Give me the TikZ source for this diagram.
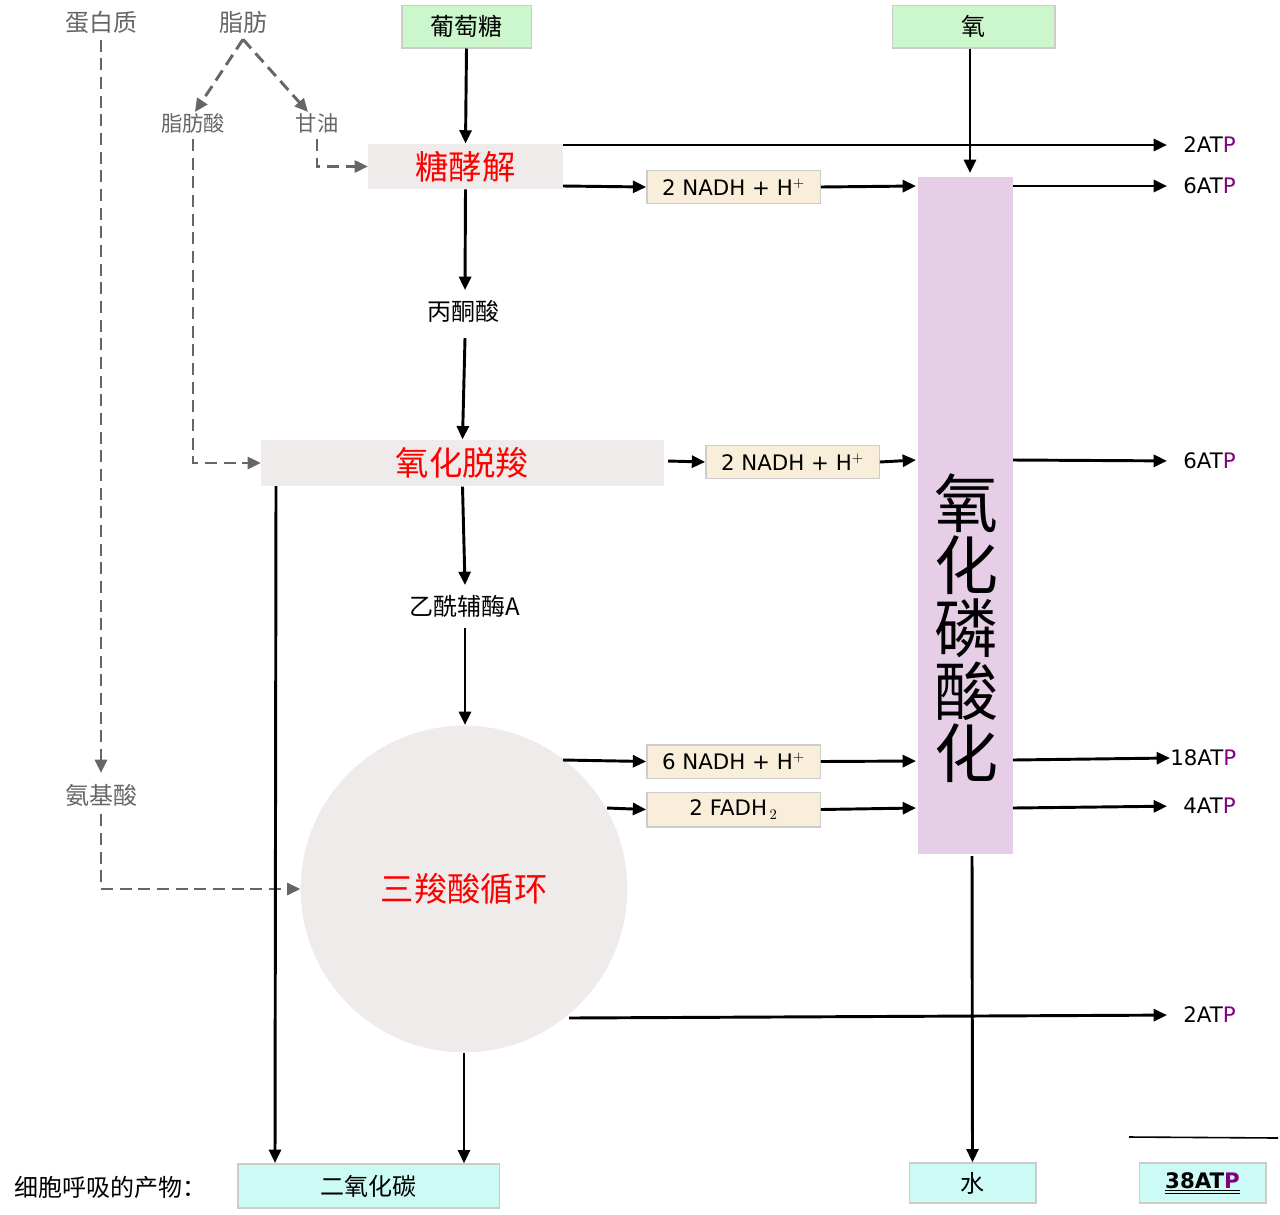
\documentclass[tikz,border=0pt]{standalone}
\usepackage{fontspec}
\setmainfont{DejaVu Sans}
\newfontfamily\cjk{Noto Sans CJK SC}
\usetikzlibrary{arrows.meta}
\definecolor{gbox}{HTML}{CCF7CC}
\definecolor{pbox}{HTML}{EFEBEB}
\definecolor{obox}{HTML}{E6CFE6}
\definecolor{ybox}{HTML}{F9EEDA}
\definecolor{cbox}{HTML}{CCFAF5}
\definecolor{pp}{HTML}{800080}
\definecolor{gr}{HTML}{666666}
\tikzset{
 arr/.style={line width=2.2pt,-{Triangle[length=10pt,width=9pt]}},
 darr/.style={line width=2.2pt,gr,dash pattern=on 9pt off 5pt,-{Triangle[length=10pt,width=9pt]}},
 lbl/.style={font=\cjk\fontsize{18}{20}\selectfont,inner sep=0pt},
 glbl/.style={lbl,text=gr},
 slbl/.style={font=\cjk\fontsize{16}{17}\selectfont,text=gr,inner sep=0pt},
 bx/.style={draw=black!20,line width=1pt,inner sep=0pt},
 rbx/.style={fill=pbox,inner sep=0pt,font=\cjk\fontsize{25}{26}\selectfont,text=red},
 nbx/.style={bx,fill=ybox,font=\fontsize{16}{18}\selectfont},
 atp/.style={font=\fontsize{16}{18}\selectfont,anchor=west,inner sep=0pt},
 toatp/.style={arr,shorten >=12pt},
}
\newcommand{\atpp}[1]{#1AT\textcolor{pp}{P}}
\begin{document}
\begin{tikzpicture}[x=0.75pt,y=-0.75pt]
\useasboundingbox (0,0) rectangle (1280,1214);
% top labels
\node[glbl] (prot) at (101,22) {蛋白质};
\node[glbl] (fat) at (243,22) {脂肪};
\node[slbl] (fa) at (193,123) {脂肪酸};
\node[slbl] (gly) at (317,123) {甘油};
\node[bx,fill=gbox,minimum width=97pt,minimum height=32pt,lbl] (glu) at (466.5,26.5) {葡萄糖};
\node[bx,fill=gbox,minimum width=122pt,minimum height=32pt,lbl] (o2) at (973.5,26.5) {氧};
\node[rbx,minimum width=146pt,minimum height=34pt] (glyc) at (465.5,166.5) {糖酵解};
\node[lbl] (pyr) at (463,311) {丙酮酸};
\node[rbx,minimum width=302pt,minimum height=35pt] (oxd) at (462.5,463) {氧化脱羧};
\node[lbl] (aca) at (465,606) {乙酰辅酶A};
\node[circle,fill=pbox,minimum size=245pt,inner sep=0pt,font=\cjk\fontsize{25}{26}\selectfont,text=red] (tca) at (464,889) {三羧酸循环};
\node[glbl] (aa) at (101,795) {氨基酸};
\node[fill=obox,minimum width=71pt,minimum height=508pt,inner sep=0pt] (ox) at (965.5,515.5) {};
\node[font=\cjk\fontsize{48}{47}\selectfont,align=center,inner sep=0pt] at (966,628) {氧\\化\\磷\\酸\\化};
% NADH boxes
\node[nbx,minimum width=130pt,minimum height=25pt] (n1) at (733.5,187) {2 NADH + H$^{+}$};
\node[nbx,minimum width=130pt,minimum height=25pt] (n2) at (792.5,462) {2 NADH + H$^{+}$};
\node[nbx,minimum width=130pt,minimum height=25pt] (n3) at (733.5,761.5) {6 NADH + H$^{+}$};
\node[nbx,minimum width=130pt,minimum height=26pt] (f1) at (733.5,809.5) {2 FADH$_{\,2}$};
% ATP labels
\node[atp] (a1) at (1183,145) {\atpp{2}};
\node[atp] (a2) at (1183,186) {\atpp{6}};
\node[atp] (a3) at (1183,461) {\atpp{6}};
\node[atp] (a4) at (1170,758) {\atpp{18}};
\node[atp] (a5) at (1183,806) {\atpp{4}};
\node[atp] (a6) at (1183,1015) {\atpp{2}};
% bottom
\node[lbl,anchor=west] (prod) at (14,1187) {细胞呼吸的产物：};
\node[bx,fill=cbox,minimum width=196pt,minimum height=33pt,lbl] (co2) at (368.5,1186) {二氧化碳};
\node[bx,fill=cbox,minimum width=95pt,minimum height=30pt,lbl] (w) at (972.5,1183) {水};
\node[bx,fill=cbox,minimum width=95pt,minimum height=30pt,font=\bfseries\fontsize{16}{18}\selectfont] (tot) at (1202.5,1183) {\underline{\underline{38AT\textcolor{pp}{P}}}};
\coordinate (l1) at (1129,1137); \coordinate (l2) at (1278,1138);
\draw[line width=1.2pt] (l1) -- (l2);
% dashed
\draw[darr] (fat.south) ++(0,6) -- (195,112);
\draw[darr] (fat.south) ++(0,6) -- (308,112);
\draw[darr] (gly.south) ++(0,6) |- (glyc.west);
\draw[darr] (fa.south) ++(0,6) |- (oxd.west);
\draw[darr] (prot.south) ++(0,6) -- (101,773);
\draw[darr] (aa.south) ++(0,8) |- (tca.west);
% main flow
\draw[arr] (glu.south) -- (glyc.north);
\draw[arr] (glyc.south) -- (465,290);
\draw[arr] (465,338) -- (oxd.north);
\draw[arr] (oxd.south) -- (465,585);
\draw[arr] (465,628) -- (465,725);
\draw[arr] (tca.south) -- (co2.north -| tca.south);
\draw[arr] (276,486) -- (275,1163);
\draw[arr] (o2.south -| 970,0) -- (970,173);
\draw[arr] (972,856) -- (w.north);
% to ATP
\draw[toatp] (563,145) -- (a1.west);
\draw[arr] (563,186) -- (n1.west);
\draw[arr] (n1.east) -- (916,186);
\draw[toatp] (1013,186) -- (a2.west);
\draw[arr] (668,461) -- (n2.west);
\draw[arr] (n2.east) -- (916,460);
\draw[toatp] (1013,460) -- (a3.west);
\draw[arr] (563,760) -- (n3.west);
\draw[arr] (n3.east) -- (916,761);
\draw[arr] (1013,760) -- (a4.west);
\draw[arr] (607,808) -- (f1.west);
\draw[arr] (f1.east) -- (916,808);
\draw[toatp] (1013,808) -- (a5.west);
\draw[toatp] (569,1018) -- (a6.west);
\end{tikzpicture}
\end{document}
